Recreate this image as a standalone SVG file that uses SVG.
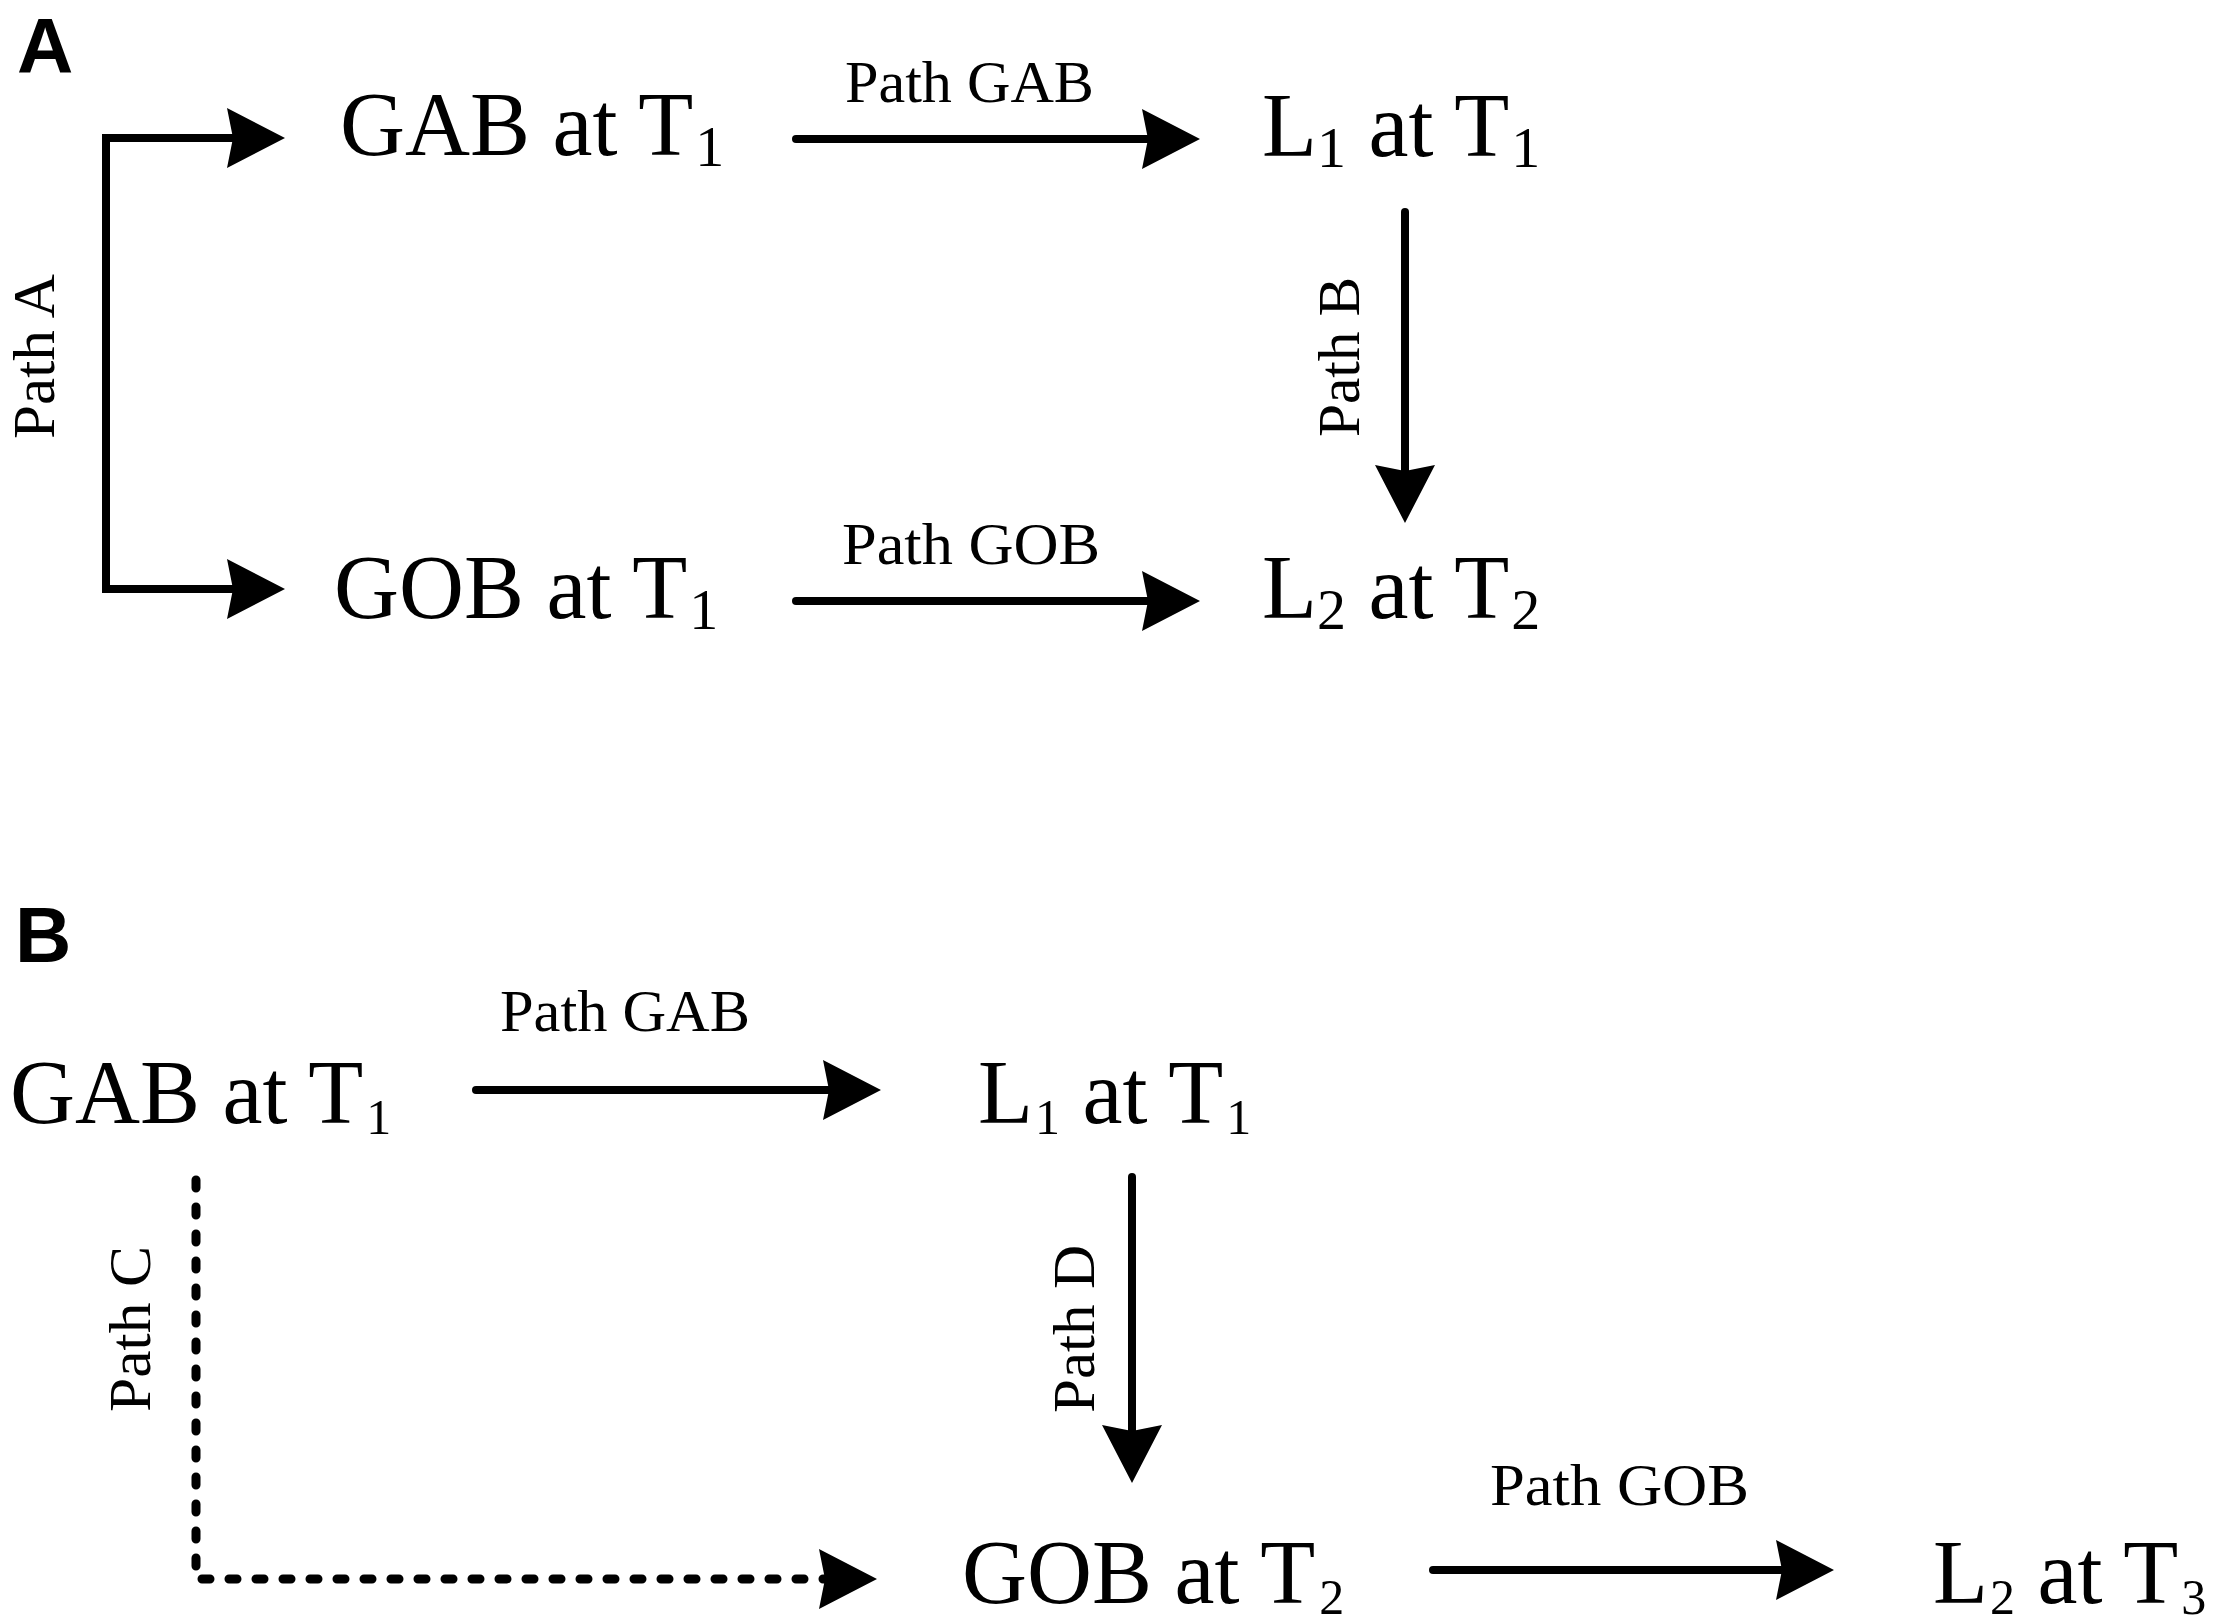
<svg xmlns="http://www.w3.org/2000/svg" width="2228" height="1621" viewBox="0 0 2228 1621">
  <style>
    .node { font-family: "Liberation Serif", "Times New Roman", serif; font-size: 90px; fill: #000; }
    .subA { font-size: 58px; }
    .subB { font-size: 50px; }
    .lbl { font-family: "Liberation Serif", "Times New Roman", serif; font-size: 60px; fill: #000; }
    .panel { font-family: "Liberation Sans", Arial, sans-serif; font-weight: bold; font-size: 78px; fill: #000; }
    .conn { fill: none; stroke: #000; stroke-width: 8; stroke-linecap: round; stroke-linejoin: miter; }
    .dash { stroke-width: 9; stroke-dasharray: 8 19; }
  </style>
  <defs>
    <marker id="head" viewBox="0 0 58 60" refX="6" refY="30" markerWidth="58" markerHeight="60" markerUnits="userSpaceOnUse" orient="auto-start-reverse">
      <path d="M0,0 L58,30 L0,60 L6,30 Z" fill="#000"/>
    </marker>
  </defs>
  <rect width="2228" height="1621" fill="#fff"/>

  <!-- Panel labels -->
  <text class="panel" x="17" y="73">A</text>
  <text class="panel" x="15" y="962">B</text>

  <!-- Connectors -->
  <g id="connectors">
    <path class="conn" d="M233,138 H106 V589 H233" style="stroke-linecap:butt" marker-start="url(#head)" marker-end="url(#head)"/>
    <path class="conn" d="M796,139 H1148" marker-end="url(#head)"/>
    <path class="conn" d="M1405,212 V471" marker-end="url(#head)"/>
    <path class="conn" d="M796,601 H1148" marker-end="url(#head)"/>

    <path class="conn" d="M476,1090 H829" marker-end="url(#head)"/>
    <path class="conn" d="M1132,1177 V1431" marker-end="url(#head)"/>
    <path class="conn dash" d="M196,1180 V1579 H825" marker-end="url(#head)"/>
    <path class="conn" d="M1433,1570 H1782" marker-end="url(#head)"/>
  </g>

  <!-- Connector labels -->
  <g id="connector-labels">
    <text class="lbl" x="845" y="102" textLength="249" lengthAdjust="spacingAndGlyphs">Path GAB</text>
    <text class="lbl" x="842" y="564" textLength="258" lengthAdjust="spacingAndGlyphs">Path GOB</text>
    <text class="lbl" transform="translate(54,439) rotate(-90)" textLength="165" lengthAdjust="spacingAndGlyphs">Path A</text>
    <text class="lbl" transform="translate(1359,437) rotate(-90)" textLength="160" lengthAdjust="spacingAndGlyphs">Path B</text>

    <text class="lbl" x="500" y="1031" textLength="250" lengthAdjust="spacingAndGlyphs">Path GAB</text>
    <text class="lbl" transform="translate(150,1412) rotate(-90)" textLength="166" lengthAdjust="spacingAndGlyphs">Path C</text>
    <text class="lbl" transform="translate(1094,1413) rotate(-90)" textLength="168" lengthAdjust="spacingAndGlyphs">Path D</text>
    <text class="lbl" x="1490" y="1505" textLength="259" lengthAdjust="spacingAndGlyphs">Path GOB</text>
  </g>

  <!-- Panel A nodes -->
  <g id="a-gab-t1"><text class="node" x="340" y="155">GAB at T<tspan class="subA" dx="2" dy="11">1</tspan></text></g>
  <g id="a-l1-t1"><text class="node" x="1262" y="156">L<tspan class="subA" dy="11">1</tspan><tspan dy="-11"> at T</tspan><tspan class="subA" dx="2" dy="11">1</tspan></text></g>
  <g id="a-gob-t1"><text class="node" x="334" y="618">GOB at T<tspan class="subA" dx="2" dy="11">1</tspan></text></g>
  <g id="a-l2-t2"><text class="node" x="1262" y="618">L<tspan class="subA" dy="11">2</tspan><tspan dy="-11"> at T</tspan><tspan class="subA" dx="2" dy="11">2</tspan></text></g>

  <!-- Panel B nodes -->
  <g id="b-gab-t1"><text class="node" x="10" y="1123">GAB at T<tspan class="subB" dx="3" dy="11">1</tspan></text></g>
  <g id="b-l1-t1"><text class="node" x="978" y="1123">L<tspan class="subB" dx="2" dy="11">1</tspan><tspan dy="-11"> at T</tspan><tspan class="subB" dx="3" dy="11">1</tspan></text></g>
  <g id="b-gob-t2"><text class="node" x="962" y="1603">GOB at T<tspan class="subB" dx="4" dy="11">2</tspan></text></g>
  <g id="b-l2-t3"><text class="node" x="1933" y="1603">L<tspan class="subB" dx="2" dy="11">2</tspan><tspan dy="-11"> at T</tspan><tspan class="subB" dx="3" dy="11">3</tspan></text></g>
</svg>
